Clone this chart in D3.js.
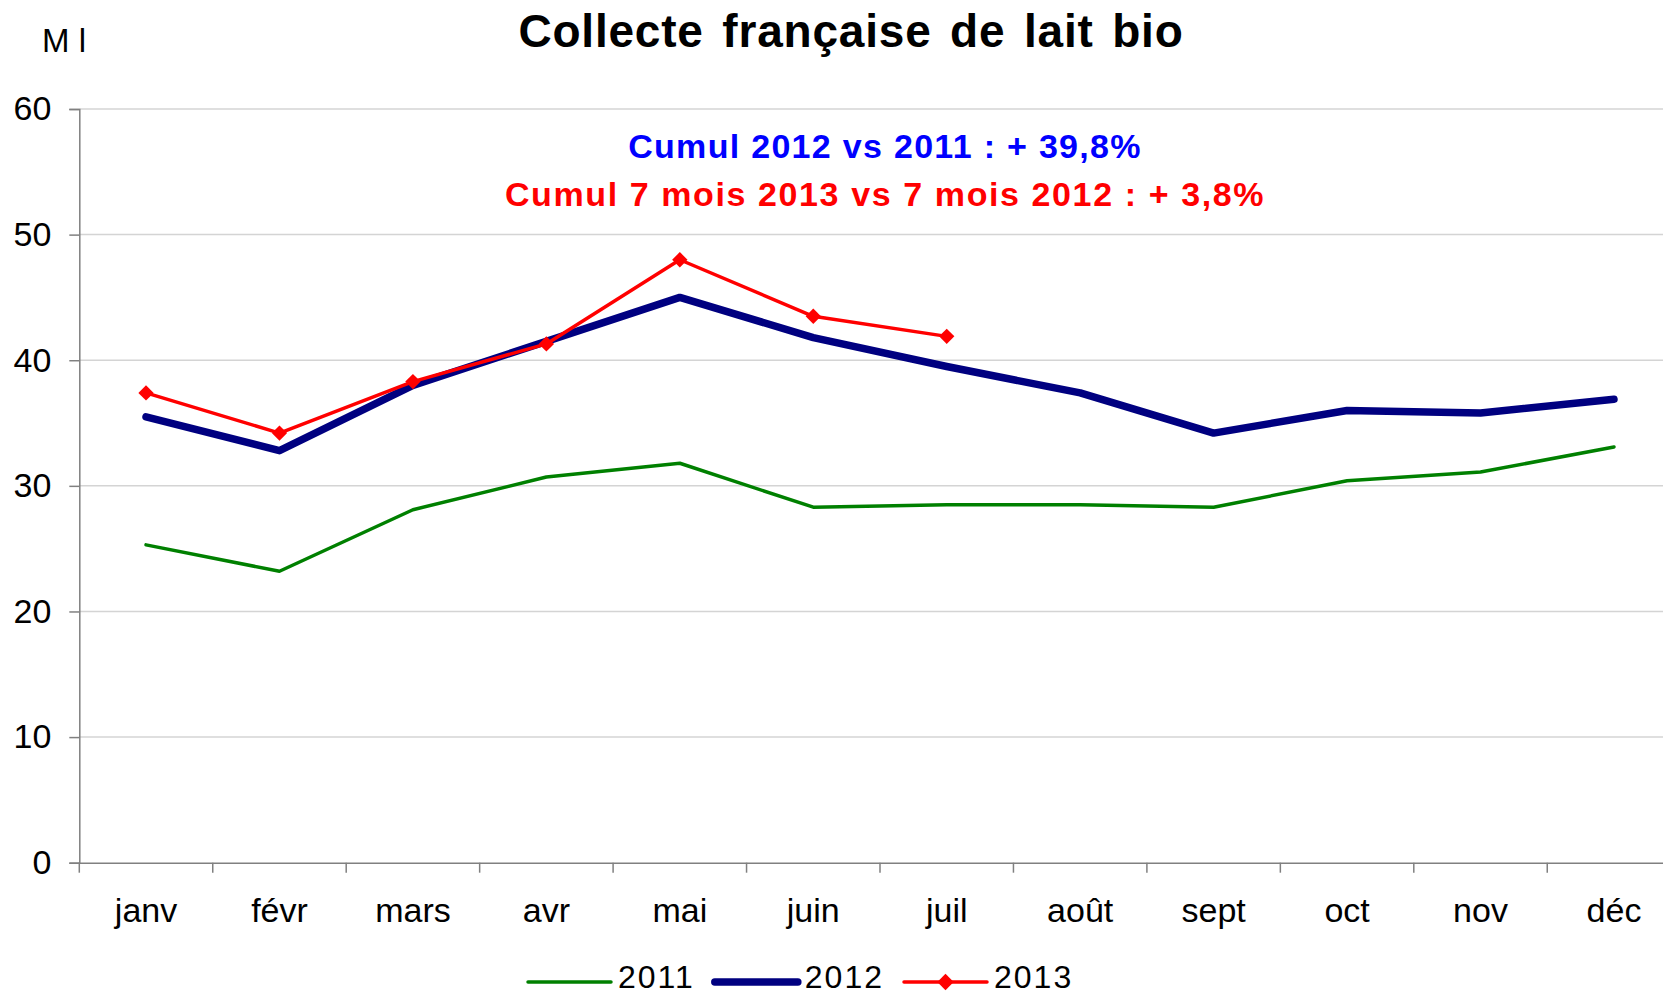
<!DOCTYPE html>
<html>
<head>
<meta charset="utf-8">
<script src="https://cdn.jsdelivr.net/npm/d3@7"></script>
<style>
  html, body { margin: 0; padding: 0; background: #fff; }
  svg { display: block; font-family: "Liberation Sans", Arial, Helvetica, sans-serif; }
</style>
</head>
<body>
<div id="chart"></div>
<script>
// data (Ml)
const months = ['janv', 'févr', 'mars', 'avr', 'mai', 'juin', 'juil', 'août', 'sept', 'oct', 'nov', 'déc'];
const values2011 = [25.3, 23.2, 28.1, 30.7, 31.8, 28.3, 28.5, 28.5, 28.3, 30.4, 31.1, 33.1];
const values2012 = [35.5, 32.8, 38.0, 41.5, 45.0, 41.8, 39.5, 37.4, 34.2, 36.0, 35.8, 36.9];
const values2013 = [37.4, 34.2, 38.3, 41.3, 48.0, 43.5, 41.9];
const yTicks = [0, 10, 20, 30, 40, 50, 60];
const years = ['2011', '2012', '2013'];

const title = 'Collecte française de lait bio';
const unitLabel = 'M l';
const note2012 = 'Cumul 2012 vs 2011 : + 39,8%';
const note2013 = 'Cumul 7 mois 2013 vs 7 mois 2012 : + 3,8%';

const W = 1663, H = 995;
const plot = {left: 79.3, top: 109, bottom: 862.7, band: 133.45};

const series = [
  {name: years[0], values: values2011, color: '#008000', width: 3.5, marker: false},
  {name: years[1], values: values2012, color: '#000080', width: 7.5, marker: false},
  {name: years[2], values: values2013, color: '#ff0000', width: 3.5, marker: true}
];

const svg = d3.select('#chart').append('svg')
  .attr('width', W)
  .attr('height', H);

const x = d3.scaleBand()
  .domain(months)
  .range([plot.left, plot.left + plot.band * months.length])
  .padding(0);

const y = d3.scaleLinear()
  .domain([0, 60])
  .range([plot.bottom, plot.top]);

// gridlines
svg.append('g')
  .selectAll('line')
  .data(yTicks.filter(d => d > 0))
  .enter().append('line')
  .attr('x1', plot.left)
  .attr('x2', W)
  .attr('y1', d => y(d))
  .attr('y2', d => y(d))
  .attr('stroke', '#d4d4d4')
  .attr('stroke-width', 1.5);

// Y axis
const yAxis = d3.axisLeft(y).tickValues(yTicks).tickSize(10).tickPadding(18);
const gy = svg.append('g')
  .attr('transform', 'translate(' + plot.left + ',0)')
  .call(yAxis);
gy.select('.domain').attr('stroke', '#808080').attr('stroke-width', 1.5);
gy.selectAll('.tick line').attr('stroke', '#808080').attr('stroke-width', 1.5);
gy.selectAll('.tick text')
  .attr('font-size', 34)
  .attr('font-family', '"Liberation Sans", Arial, sans-serif')
  .attr('fill', '#000');

// X axis: ticks between categories
const xAxis = d3.axisBottom(x).tickSize(0).tickPadding(35);
const gx = svg.append('g')
  .attr('transform', 'translate(0,' + plot.bottom + ')')
  .call(xAxis);
gx.select('.domain').attr('stroke', '#808080').attr('stroke-width', 1.5);
gx.selectAll('.tick text')
  .attr('font-size', 34)
  .attr('font-family', '"Liberation Sans", Arial, sans-serif')
  .attr('fill', '#000');

gx.selectAll('line.sep')
  .data(d3.range(months.length + 1))
  .enter().append('line')
  .attr('class', 'sep')
  .attr('x1', i => plot.left + i * x.step())
  .attr('x2', i => plot.left + i * x.step())
  .attr('y1', 0)
  .attr('y2', 10)
  .attr('stroke', '#808080')
  .attr('stroke-width', 1.5);

// lines
const line = d3.line()
  .x((d, i) => x(months[i]) + x.bandwidth() / 2)
  .y(d => y(d));

const diamond = d3.symbol().type(d3.symbolDiamond2).size(150);

series.forEach(s => {
  svg.append('path')
    .attr('d', line(s.values))
    .attr('fill', 'none')
    .attr('stroke', s.color)
    .attr('stroke-width', s.width)
    .attr('stroke-linejoin', 'round')
    .attr('stroke-linecap', 'round');

  if (s.marker) {
    svg.selectAll('.m' + s.name)
      .data(s.values)
      .enter().append('path')
      .attr('class', 'm' + s.name)
      .attr('d', diamond)
      .attr('transform', (d, i) =>
        'translate(' + (x(months[i]) + x.bandwidth() / 2) + ',' + y(d) + ')')
      .attr('fill', s.color);
  }
});

// title and notes
svg.append('text')
  .attr('x', 851)
  .attr('y', 47)
  .attr('text-anchor', 'middle')
  .attr('font-size', 46)
  .attr('font-weight', 'bold')
  .attr('letter-spacing', 0.8)
  .attr('word-spacing', 5)
  .text(title);

svg.append('text')
  .attr('x', 42)
  .attr('y', 52)
  .attr('font-size', 33)
  .text(unitLabel);

svg.append('text')
  .attr('x', 885)
  .attr('y', 157.5)
  .attr('text-anchor', 'middle')
  .attr('font-size', 34)
  .attr('font-weight', 'bold')
  .attr('letter-spacing', 1.3)
  .attr('fill', '#0000ff')
  .text(note2012);

svg.append('text')
  .attr('x', 885)
  .attr('y', 205.5)
  .attr('text-anchor', 'middle')
  .attr('font-size', 34)
  .attr('font-weight', 'bold')
  .attr('letter-spacing', 1.6)
  .attr('fill', '#ff0000')
  .text(note2013);

// legend
const legend = svg.append('g');
let lx = 528;
const ly = 982;
series.forEach(s => {
  legend.append('line')
    .attr('x1', lx).attr('x2', lx + 83)
    .attr('y1', ly).attr('y2', ly)
    .attr('stroke', s.color)
    .attr('stroke-width', s.width)
    .attr('stroke-linecap', 'round');
  if (s.marker) {
    legend.append('path')
      .attr('d', d3.symbol().type(d3.symbolDiamond2).size(170))
      .attr('transform', 'translate(' + (lx + 41.5) + ',' + ly + ')')
      .attr('fill', s.color);
  }
  const t = legend.append('text')
    .attr('x', lx + 90)
    .attr('y', 988)
    .attr('font-size', 32)
    .attr('letter-spacing', 2)
    .text(s.name);
  lx += 90 + t.node().getComputedTextLength() + 20;
});
</script>
</body>
</html>
